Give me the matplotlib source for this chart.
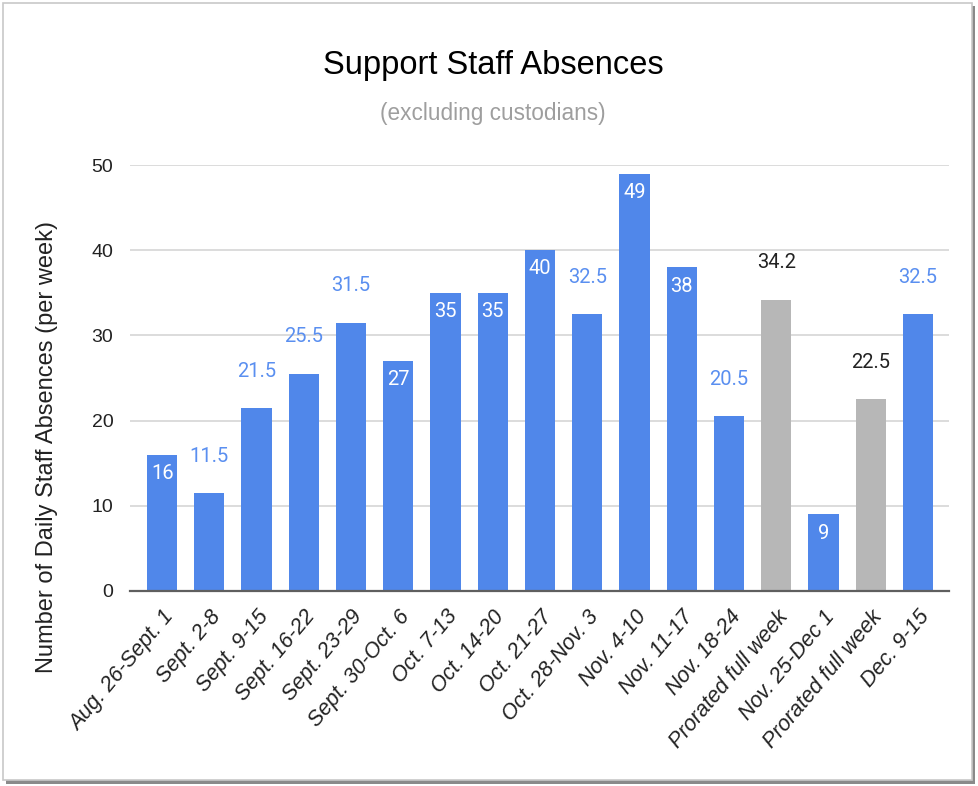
import matplotlib.pyplot as plt
from matplotlib.patches import Rectangle

weeks = ["Aug. 26-Sept. 1", "Sept. 2-8", "Sept. 9-15", "Sept. 16-22", "Sept. 23-29",
         "Sept. 30-Oct. 6", "Oct. 7-13", "Oct. 14-20", "Oct. 21-27", "Oct. 28-Nov. 3",
         "Nov. 4-10", "Nov. 11-17", "Nov. 18-24", "Prorated full week", "Nov. 25-Dec 1",
         "Prorated full week", "Dec. 9-15"]
absences = [16, 11.5, 21.5, 25.5, 31.5, 27, 35, 35, 40, 32.5, 49, 38, 20.5, 34.2, 9, 22.5, 32.5]
prorated = [False] * 13 + [True, False, True, False]
value_labels = ["16", "11.5", "21.5", "25.5", "31.5", "27", "35", "35", "40", "32.5",
                "49", "38", "20.5", "34.2", "9", "22.5", "32.5"]

blue = "#5087ea"
grey = "#b7b7b7"
plt.rcParams['font.family'] = ['Liberation Sans', 'DejaVu Sans']

fig = plt.figure(figsize=(9.79, 7.86), dpi=100)

# card frame with a little shadow
fig.patches.append(Rectangle((0.006, 0.003), 0.99, 0.99, transform=fig.transFigure,
                             facecolor="#8a8a8a", edgecolor="none", zorder=-3))
fig.patches.append(Rectangle((0.003, 0.008), 0.99, 0.988, transform=fig.transFigure,
                             facecolor="white", edgecolor="#c8c8c8", lw=1.2, zorder=-2))

ax = fig.add_axes([0.1328, 0.2481, 0.8366, 0.5419])
colors = [grey if p else blue for p in prorated]
x = list(range(len(weeks)))
bars = ax.bar(x, absences, width=0.64, color=colors, zorder=3)

for b, v, lab, p in zip(bars, absences, value_labels, prorated):
    cx = b.get_x() + b.get_width() / 2
    if "." in lab:
        # doesn't fit inside, goes above
        ax.annotate(lab, (cx, v), xytext=(0, 26.5), textcoords="offset points",
                    ha="center", va="center", fontsize=14.5, family="Roboto",
                    color="#222222" if p else "#5a8ff0")
    else:
        ax.annotate(lab, (cx, v), xytext=(0, -13.5), textcoords="offset points",
                    ha="center", va="center", fontsize=14.5, family="Roboto",
                    color="white")

ax.set_xlim(-0.68, 16.66)
ax.set_ylim(0, 50)
ax.set_yticks([0, 10, 20, 30, 40, 50])
ax.tick_params(axis="y", length=0, pad=12, labelsize=14, labelcolor="#222222")
ax.tick_params(axis="x", length=0, pad=11)
ax.set_xticks(x)
ax.set_xticklabels(weeks, rotation=50, ha="right", rotation_mode="anchor",
                   fontsize=15.5, style="italic", color="#222222")
ax.grid(axis="y", color="#d6d6d6", lw=1.2, zorder=0)
for s in ["top", "right", "left"]:
    ax.spines[s].set_visible(False)
ax.spines["bottom"].set_color("#5f5f5f")
ax.spines["bottom"].set_linewidth(1.6)
ax.spines["bottom"].set_zorder(4)

fig.text(0.5036, 0.917, "Support Staff Absences", ha="center", va="center",
         fontsize=23.5, color="black")
fig.text(0.5036, 0.856, "(excluding custodians)", ha="center", va="center",
         fontsize=16.3, color="#9e9e9e")
fig.text(0.048, 0.431, "Number of Daily Staff Absences (per week)", rotation=90,
         ha="center", va="center", fontsize=17, color="#222222")

fig.savefig("out.png", dpi=100)
